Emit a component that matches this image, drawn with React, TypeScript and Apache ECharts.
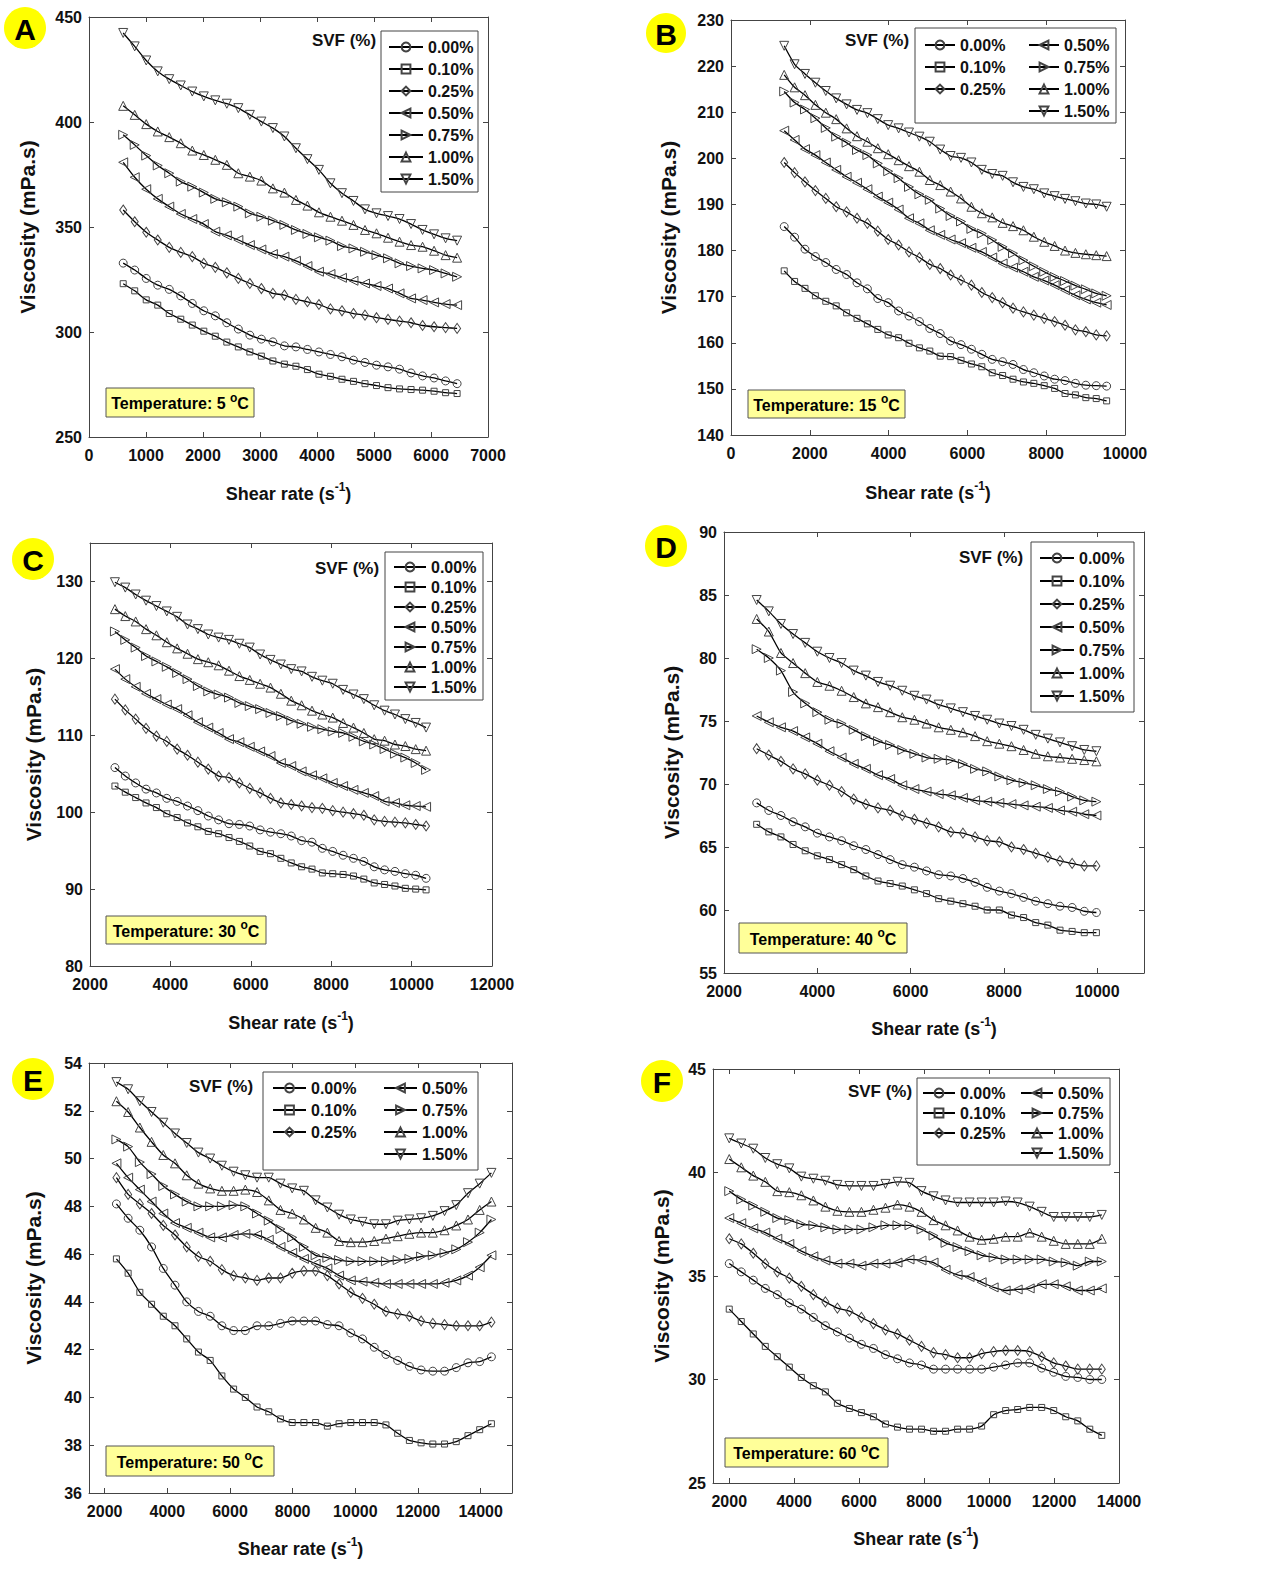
import React, { useEffect, useRef } from 'react';
import * as echarts from 'echarts';

// ---------------- DATA ----------------
const SVF = ['0.00%', '0.10%', '0.25%', '0.50%', '0.75%', '1.00%', '1.50%'];
const PANEL_LETTERS = ['A', 'B', 'C', 'D', 'E', 'F'];
const TEMPERATURES = ['5', '15', '30', '40', '50', '60'];

// Panel A (5 °C)
const SHEAR_A = [600, 802, 1004, 1206, 1408, 1610, 1812, 2014, 2216, 2418, 2620, 2822, 3024, 3226, 3428, 3630, 3832, 4034, 4236, 4438, 4640, 4842, 5044, 5246, 5448, 5650, 5852, 6054, 6256, 6458];
const A_000 = [332.8, 329.5, 325.5, 322.3, 320.3, 317.2, 313.6, 310.1, 307.7, 304.4, 301.4, 298.5, 296.6, 295.3, 293.4, 292.9, 291.7, 290.5, 289.3, 288.2, 286.6, 285.5, 284.2, 283.4, 282.3, 280.5, 279.1, 278.1, 276.7, 275.4];
const A_010 = [323.0, 319.6, 315.3, 312.8, 308.8, 306.1, 303.3, 300.4, 298.0, 295.2, 292.9, 290.5, 288.5, 286.2, 284.7, 283.7, 282.1, 279.9, 278.9, 277.5, 276.5, 275.4, 274.5, 273.5, 272.9, 272.6, 272.3, 271.8, 271.1, 270.7];
const A_025 = [358.1, 352.5, 347.5, 343.8, 340.3, 337.9, 335.9, 332.7, 330.8, 328.2, 325.5, 323.1, 320.7, 318.4, 317.6, 315.5, 314.4, 313.1, 311.0, 310.1, 308.8, 308.0, 306.8, 306.0, 305.2, 304.4, 303.1, 302.5, 302.1, 301.7];
const A_050 = [380.8, 373.7, 368.0, 363.4, 359.7, 356.2, 353.8, 351.4, 347.8, 346.0, 343.8, 341.4, 339.3, 337.1, 335.9, 333.9, 331.4, 328.7, 327.6, 325.8, 324.4, 323.1, 321.9, 320.7, 318.4, 316.0, 315.2, 314.1, 313.3, 312.8];
const A_075 = [393.9, 389.1, 384.0, 379.3, 375.6, 371.6, 369.2, 366.4, 363.4, 361.8, 359.7, 356.5, 354.9, 353.0, 351.0, 348.6, 346.7, 345.1, 343.5, 340.9, 339.8, 338.2, 336.6, 335.1, 332.7, 331.4, 330.3, 329.5, 327.9, 326.3];
const A_100 = [407.7, 403.4, 399.0, 395.5, 392.8, 389.9, 386.4, 384.3, 382.0, 379.6, 375.6, 374.0, 372.1, 368.4, 366.4, 362.9, 360.2, 357.0, 354.9, 353.0, 351.0, 348.6, 347.0, 344.9, 343.0, 341.4, 340.6, 338.7, 336.6, 335.4];
const A_150 = [442.4, 436.0, 429.3, 424.1, 420.4, 417.4, 414.5, 412.2, 410.3, 408.7, 406.6, 403.4, 400.2, 397.1, 393.1, 387.5, 382.3, 377.2, 370.8, 366.1, 362.4, 358.4, 356.5, 355.2, 353.8, 351.4, 348.6, 346.5, 344.6, 343.5];
const XTICKS_A = [0, 1000, 2000, 3000, 4000, 5000, 6000, 7000];
const YTICKS_A = [250, 300, 350, 400, 450];

// Panel B (15 °C)
const SHEAR_B = [1350, 1614, 1878, 2142, 2406, 2670, 2934, 3198, 3462, 3726, 3990, 4254, 4518, 4782, 5046, 5310, 5574, 5838, 6102, 6366, 6630, 6894, 7158, 7422, 7686, 7950, 8214, 8478, 8742, 9006, 9270, 9534];
const B_000 = [185.2, 182.9, 180.3, 178.7, 177.4, 175.9, 174.8, 173.0, 171.7, 169.6, 168.7, 166.9, 165.8, 164.6, 163.1, 162.0, 160.4, 159.6, 158.6, 157.5, 156.4, 155.9, 155.3, 154.2, 153.5, 152.8, 152.1, 151.8, 151.2, 150.8, 150.7, 150.6];
const B_010 = [175.6, 173.3, 171.8, 170.2, 169.0, 168.0, 166.5, 165.3, 164.1, 162.9, 161.7, 161.1, 159.9, 158.9, 158.2, 157.1, 157.0, 156.2, 155.4, 154.8, 153.5, 152.9, 152.1, 151.5, 151.2, 150.7, 150.1, 149.0, 148.7, 148.1, 147.9, 147.4];
const B_025 = [199.1, 196.9, 194.9, 193.0, 191.3, 189.5, 188.4, 187.0, 185.9, 184.2, 182.4, 181.2, 179.7, 178.5, 177.0, 176.1, 174.7, 173.6, 172.5, 170.9, 169.8, 168.7, 167.5, 166.7, 166.0, 165.3, 164.6, 163.8, 162.8, 162.4, 161.7, 161.5];
const B_050 = [206.0, 204.0, 202.0, 200.7, 199.1, 197.5, 196.0, 194.7, 193.3, 191.7, 190.4, 188.9, 187.0, 185.9, 184.4, 183.4, 182.4, 181.6, 180.6, 179.7, 178.5, 177.2, 176.3, 175.4, 174.3, 173.5, 172.5, 171.4, 170.3, 169.4, 168.7, 168.2];
const B_075 = [214.5, 212.1, 210.6, 208.7, 206.6, 204.7, 203.4, 201.8, 200.7, 198.9, 197.2, 195.7, 193.8, 192.2, 191.0, 189.1, 187.5, 186.3, 184.7, 183.7, 182.3, 180.8, 179.4, 177.9, 176.6, 175.4, 174.3, 173.4, 172.4, 171.6, 170.7, 170.2];
const B_100 = [218.1, 215.4, 213.7, 211.6, 209.9, 208.5, 206.5, 204.8, 203.6, 202.2, 200.9, 199.6, 198.3, 197.1, 195.3, 194.2, 192.8, 191.3, 189.5, 188.1, 187.2, 186.0, 185.3, 184.4, 183.0, 181.9, 181.0, 180.0, 179.5, 179.2, 179.0, 178.8];
const B_150 = [224.4, 220.4, 218.3, 216.4, 214.6, 213.0, 211.7, 210.5, 209.8, 208.5, 207.2, 206.5, 205.6, 204.7, 203.6, 201.9, 200.5, 200.1, 199.1, 197.5, 196.6, 196.2, 194.8, 193.8, 193.3, 192.4, 191.8, 191.2, 190.7, 190.2, 190.0, 189.5];
const XTICKS_B = [0, 2000, 4000, 6000, 8000, 10000];
const YTICKS_B = [140, 150, 160, 170, 180, 190, 200, 210, 220, 230];

// Panel C (30 °C)
const SHEAR_C = [2620, 2878, 3136, 3394, 3652, 3910, 4168, 4426, 4684, 4942, 5200, 5458, 5716, 5974, 6232, 6490, 6748, 7006, 7264, 7522, 7780, 8038, 8296, 8554, 8812, 9070, 9328, 9586, 9844, 10102, 10360];
const C_000 = [105.8, 104.7, 103.8, 103.0, 102.5, 101.8, 101.4, 100.8, 100.2, 99.5, 99.0, 98.5, 98.4, 98.2, 97.7, 97.4, 97.2, 96.9, 96.3, 96.1, 95.3, 94.9, 94.4, 94.0, 93.6, 92.9, 92.5, 92.3, 92.0, 91.8, 91.4];
const C_010 = [103.4, 102.6, 101.9, 101.2, 100.6, 99.8, 99.3, 98.6, 98.1, 97.5, 97.2, 96.7, 96.2, 95.6, 94.9, 94.6, 94.0, 93.4, 92.9, 92.6, 92.1, 92.0, 91.9, 91.7, 91.3, 90.8, 90.6, 90.4, 90.1, 90.0, 89.9];
const C_025 = [114.7, 113.3, 112.1, 110.9, 109.9, 109.2, 108.2, 107.4, 106.5, 105.6, 104.7, 104.5, 103.8, 103.1, 102.5, 101.8, 101.2, 101.0, 100.8, 100.6, 100.5, 100.2, 100.0, 99.8, 99.6, 99.0, 98.8, 98.7, 98.6, 98.4, 98.2];
const C_050 = [118.6, 117.3, 116.3, 115.4, 114.7, 114.0, 113.4, 112.6, 111.7, 111.0, 110.3, 109.5, 109.1, 108.5, 107.9, 107.3, 106.4, 106.0, 105.3, 104.8, 104.4, 103.8, 103.4, 102.9, 102.5, 102.1, 101.4, 101.2, 100.9, 100.8, 100.7];
const C_075 = [123.5, 122.4, 121.4, 120.3, 119.6, 118.9, 118.1, 117.3, 116.4, 115.7, 115.3, 114.9, 114.2, 113.8, 113.4, 112.9, 112.5, 111.9, 111.5, 111.1, 110.8, 110.5, 110.3, 109.8, 109.2, 108.8, 108.2, 107.6, 107.1, 106.4, 105.5];
const C_100 = [126.4, 125.5, 124.8, 123.8, 123.0, 122.1, 121.3, 120.6, 119.9, 119.5, 119.1, 118.4, 117.7, 117.2, 116.7, 116.2, 115.4, 114.5, 113.9, 113.2, 112.7, 112.3, 111.6, 111.0, 110.3, 109.5, 109.3, 108.8, 108.6, 108.2, 108.0];
const C_150 = [129.9, 129.2, 128.3, 127.5, 126.8, 126.1, 125.4, 124.4, 123.8, 123.1, 122.7, 122.4, 121.9, 121.4, 120.5, 119.8, 119.2, 118.6, 118.3, 117.6, 117.1, 116.7, 115.9, 115.3, 114.7, 113.9, 113.2, 112.7, 112.1, 111.6, 111.0];
const XTICKS_C = [2000, 4000, 6000, 8000, 10000, 12000];
const YTICKS_C = [80, 90, 100, 110, 120, 130];

// Panel D (40 °C)
const SHEAR_D = [2700, 2960, 3220, 3480, 3740, 4000, 4260, 4520, 4780, 5040, 5300, 5560, 5820, 6080, 6340, 6600, 6860, 7120, 7380, 7640, 7900, 8160, 8420, 8680, 8940, 9200, 9460, 9720, 9980];
const D_000 = [68.5, 67.9, 67.5, 67.0, 66.6, 66.1, 65.8, 65.5, 65.1, 64.8, 64.4, 64.0, 63.6, 63.4, 63.1, 62.8, 62.7, 62.5, 62.2, 61.8, 61.5, 61.3, 61.0, 60.7, 60.5, 60.3, 60.2, 59.9, 59.8];
const D_010 = [66.8, 66.2, 65.8, 65.2, 64.7, 64.3, 64.0, 63.6, 63.2, 62.7, 62.3, 62.1, 61.9, 61.6, 61.3, 60.9, 60.7, 60.5, 60.3, 60.0, 60.0, 59.6, 59.4, 59.0, 58.8, 58.4, 58.3, 58.2, 58.2];
const D_025 = [72.8, 72.3, 71.8, 71.2, 70.8, 70.3, 69.9, 69.4, 68.8, 68.4, 68.1, 67.9, 67.5, 67.2, 66.9, 66.6, 66.2, 66.1, 65.8, 65.5, 65.4, 65.0, 64.8, 64.5, 64.2, 63.9, 63.7, 63.5, 63.5];
const D_050 = [75.4, 74.9, 74.5, 74.2, 73.7, 73.2, 72.6, 72.1, 71.6, 71.2, 70.7, 70.4, 69.9, 69.6, 69.4, 69.2, 69.1, 68.9, 68.7, 68.6, 68.5, 68.4, 68.3, 68.2, 68.1, 67.9, 67.8, 67.6, 67.5];
const D_075 = [80.7, 80.0, 79.0, 77.3, 76.4, 75.7, 75.1, 74.8, 74.3, 73.8, 73.4, 73.1, 72.7, 72.4, 72.1, 72.0, 71.9, 71.6, 71.2, 71.0, 70.6, 70.3, 70.1, 69.9, 69.6, 69.4, 69.0, 68.7, 68.6];
const D_100 = [83.1, 82.1, 80.4, 79.6, 78.8, 78.1, 77.8, 77.4, 76.9, 76.4, 76.1, 75.7, 75.3, 75.1, 74.8, 74.5, 74.3, 74.1, 73.8, 73.4, 73.2, 73.0, 72.7, 72.4, 72.2, 72.1, 72.0, 71.9, 71.8];
const D_150 = [84.6, 83.7, 82.7, 81.9, 81.2, 80.5, 80.0, 79.6, 79.0, 78.6, 78.1, 77.8, 77.4, 77.0, 76.7, 76.3, 76.0, 75.7, 75.4, 75.1, 74.8, 74.6, 74.3, 73.9, 73.6, 73.3, 73.0, 72.7, 72.6];
const XTICKS_D = [2000, 4000, 6000, 8000, 10000];
const YTICKS_D = [55, 60, 65, 70, 75, 80, 85, 90];

// Panel E (50 °C)
const SHEAR_E = [2375, 2749, 3123, 3497, 3871, 4245, 4619, 4993, 5367, 5741, 6115, 6489, 6863, 7237, 7611, 7985, 8359, 8733, 9107, 9481, 9855, 10229, 10603, 10977, 11351, 11725, 12099, 12473, 12847, 13221, 13595, 13969, 14343];
const E_000 = [48.1, 47.5, 47.0, 46.3, 45.4, 44.7, 44.0, 43.6, 43.4, 43.0, 42.8, 42.8, 43.0, 43.0, 43.1, 43.2, 43.2, 43.2, 43.05, 43.0, 42.7, 42.45, 42.1, 41.8, 41.55, 41.3, 41.15, 41.1, 41.1, 41.25, 41.45, 41.5, 41.7];
const E_010 = [45.8, 45.2, 44.4, 43.9, 43.4, 43.0, 42.45, 41.9, 41.55, 40.9, 40.35, 40.0, 39.6, 39.4, 39.1, 38.95, 38.95, 38.95, 38.8, 38.9, 38.95, 38.95, 38.95, 38.85, 38.5, 38.2, 38.1, 38.05, 38.05, 38.15, 38.4, 38.65, 38.9];
const E_025 = [49.2, 48.5, 48.1, 47.7, 47.2, 46.8, 46.3, 45.9, 45.7, 45.35, 45.1, 45.0, 44.9, 45.0, 45.0, 45.2, 45.3, 45.3, 45.1, 44.75, 44.4, 44.15, 43.9, 43.6, 43.5, 43.4, 43.2, 43.1, 43.05, 43.0, 43.0, 43.0, 43.15];
const E_050 = [49.8, 49.2, 48.7, 48.2, 47.7, 47.3, 47.1, 46.9, 46.7, 46.7, 46.8, 46.85, 46.8, 46.6, 46.3, 46.05, 45.8, 45.6, 45.4, 45.1, 44.9, 44.85, 44.8, 44.75, 44.75, 44.75, 44.75, 44.75, 44.8, 44.9, 45.1, 45.45, 45.95];
const E_075 = [50.8, 50.5, 49.85, 49.35, 48.85, 48.5, 48.2, 48.0, 48.0, 48.0, 48.05, 48.0, 47.7, 47.4, 47.05, 46.7, 46.3, 45.95, 45.85, 45.75, 45.7, 45.7, 45.7, 45.7, 45.75, 45.8, 45.9, 45.95, 46.05, 46.2, 46.5, 46.9, 47.45];
const E_100 = [52.4, 51.95, 51.3, 50.7, 50.15, 49.8, 49.3, 48.95, 48.75, 48.65, 48.65, 48.7, 48.6, 48.25, 47.85, 47.7, 47.45, 47.1, 46.9, 46.55, 46.5, 46.5, 46.55, 46.65, 46.75, 46.85, 46.9, 46.9, 47.0, 47.2, 47.45, 47.85, 48.2];
const E_150 = [53.2, 52.9, 52.4, 51.95, 51.5, 51.05, 50.65, 50.25, 50.0, 49.7, 49.45, 49.3, 49.2, 49.2, 48.95, 48.75, 48.65, 48.25, 47.95, 47.65, 47.45, 47.35, 47.25, 47.25, 47.4, 47.45, 47.5, 47.6, 47.8, 48.05, 48.55, 48.95, 49.4];
const XTICKS_E = [2000, 4000, 6000, 8000, 10000, 12000, 14000];
const YTICKS_E = [36, 38, 40, 42, 44, 46, 48, 50, 52, 54];

// Panel F (60 °C)
const SHEAR_F = [2000, 2370, 2740, 3110, 3480, 3850, 4220, 4590, 4960, 5330, 5700, 6070, 6440, 6810, 7180, 7550, 7920, 8290, 8660, 9030, 9400, 9770, 10140, 10510, 10880, 11250, 11620, 11990, 12360, 12730, 13100, 13470];
const F_000 = [35.6, 35.2, 34.8, 34.4, 34.1, 33.7, 33.4, 33.0, 32.6, 32.3, 32.0, 31.7, 31.5, 31.2, 31.0, 30.8, 30.7, 30.5, 30.5, 30.5, 30.5, 30.5, 30.6, 30.7, 30.8, 30.8, 30.55, 30.35, 30.15, 30.1, 30.0, 30.0];
const F_010 = [33.4, 32.8, 32.2, 31.6, 31.1, 30.6, 30.1, 29.7, 29.4, 28.85, 28.6, 28.4, 28.2, 27.85, 27.7, 27.6, 27.6, 27.5, 27.5, 27.6, 27.6, 27.75, 28.3, 28.5, 28.55, 28.65, 28.65, 28.5, 28.2, 28.0, 27.6, 27.3];
const F_025 = [36.8, 36.55, 36.1, 35.6, 35.2, 34.9, 34.5, 34.1, 33.75, 33.45, 33.3, 33.0, 32.7, 32.4, 32.2, 31.9, 31.6, 31.3, 31.2, 31.05, 31.05, 31.25, 31.35, 31.4, 31.4, 31.35, 31.1, 30.8, 30.65, 30.5, 30.5, 30.5];
const F_050 = [37.8, 37.55, 37.3, 37.1, 36.8, 36.55, 36.2, 35.95, 35.75, 35.6, 35.6, 35.5, 35.6, 35.6, 35.65, 35.8, 35.75, 35.65, 35.3, 35.05, 34.95, 34.7, 34.45, 34.3, 34.35, 34.4, 34.6, 34.6, 34.5, 34.3, 34.3, 34.4];
const F_075 = [39.1, 38.7, 38.4, 38.1, 37.8, 37.7, 37.5, 37.45, 37.35, 37.25, 37.25, 37.25, 37.35, 37.45, 37.45, 37.45, 37.25, 36.95, 36.6, 36.4, 36.2, 36.0, 35.9, 35.8, 35.8, 35.8, 35.8, 35.7, 35.65, 35.5, 35.7, 35.7];
const F_100 = [40.65, 40.25, 39.85, 39.55, 39.1, 39.05, 38.9, 38.65, 38.35, 38.15, 38.1, 38.1, 38.2, 38.3, 38.45, 38.35, 38.1, 37.7, 37.45, 37.2, 36.9, 36.75, 36.8, 36.9, 36.9, 37.1, 36.9, 36.7, 36.55, 36.55, 36.55, 36.8];
const F_150 = [41.65, 41.4, 41.15, 40.7, 40.4, 40.2, 39.8, 39.7, 39.6, 39.4, 39.35, 39.35, 39.35, 39.45, 39.55, 39.5, 39.1, 38.85, 38.65, 38.55, 38.55, 38.55, 38.55, 38.6, 38.55, 38.35, 38.1, 37.85, 37.85, 37.85, 37.85, 37.95];
const XTICKS_F = [2000, 4000, 6000, 8000, 10000, 12000, 14000];
const YTICKS_F = [25, 30, 35, 40, 45];

// ---------------- STYLE / LAYOUT ----------------
const FONT = '"Liberation Sans", Arial, Helvetica, sans-serif';
const AXIS_COLOR = '#444';
const MARKERS: { symbol: string; size: number | number[] }[] = [
  { symbol: 'circle', size: 8 },
  { symbol: 'rect', size: 6 },
  { symbol: 'path://M5,0L10,7L5,14L0,7Z', size: [7, 10] },
  { symbol: 'path://M0,5L9,0L9,10Z', size: [9, 9] },
  { symbol: 'path://M9,5L0,0L0,10Z', size: [9, 9] },
  { symbol: 'path://M5,0L10,9L0,9Z', size: [9, 9] },
  { symbol: 'path://M0,0L10,0L5,9Z', size: [9, 9] },
];

const ALL = [0, 1, 2, 3, 4, 5, 6];
const LEFT3 = [0, 1, 2];
const RIGHT4 = [3, 4, 5, 6];

const PANELS = [
  {
    x: SHEAR_A, ys: [A_000, A_010, A_025, A_050, A_075, A_100, A_150], xTicks: XTICKS_A, yTicks: YTICKS_A,
    grid: { left: 89, top: 17, width: 399, height: 420 }, xRange: [0, 7000], yRange: [250, 450], xGap: 44, yGap: 51,
    legend: { itemWidth: 34, itemGap: 4, cols: [{ left: 388, top: 38, idx: ALL }] },
    box: [381, 31, 97, 161], svf: [344, 40], temp: [106, 388, 148, 29], circle: [25, 28, 21],
  },
  {
    x: SHEAR_B, ys: [B_000, B_010, B_025, B_050, B_075, B_100, B_150], xTicks: XTICKS_B, yTicks: YTICKS_B,
    grid: { left: 731, top: 20, width: 394, height: 415 }, xRange: [0, 10000], yRange: [140, 230], xGap: 45, yGap: 52,
    legend: { itemWidth: 30, itemGap: 4, cols: [{ left: 924, top: 36, idx: LEFT3 }, { left: 1028, top: 36, idx: RIGHT4 }] },
    box: [915, 28, 201, 95], svf: [877, 40], temp: [748, 390, 157, 28], circle: [666, 33, 20],
  },
  {
    x: SHEAR_C, ys: [C_000, C_010, C_025, C_050, C_075, C_100, C_150], xTicks: XTICKS_C, yTicks: YTICKS_C,
    grid: { left: 90, top: 543, width: 402, height: 423 }, xRange: [2000, 12000], yRange: [80, 135], xGap: 44, yGap: 46,
    legend: { itemWidth: 32, itemGap: 2, cols: [{ left: 393, top: 558, idx: ALL }] },
    box: [385, 552, 98, 148], svf: [347, 568], temp: [106, 916, 160, 28], circle: [33, 559, 21],
  },
  {
    x: SHEAR_D, ys: [D_000, D_010, D_025, D_050, D_075, D_100, D_150], xTicks: XTICKS_D, yTicks: YTICKS_D,
    grid: { left: 724, top: 532, width: 420, height: 441 }, xRange: [2000, 11000], yRange: [55, 90], xGap: 43, yGap: 42,
    legend: { itemWidth: 34, itemGap: 5, cols: [{ left: 1039, top: 549, idx: ALL }] },
    box: [1031, 542, 103, 170], svf: [991, 557], temp: [739, 923, 168, 30], circle: [666, 546, 21],
  },
  {
    x: SHEAR_E, ys: [E_000, E_010, E_025, E_050, E_075, E_100, E_150], xTicks: XTICKS_E, yTicks: YTICKS_E,
    grid: { left: 89, top: 1063, width: 423, height: 430 }, xRange: [1500, 15000], yRange: [36, 54], xGap: 43, yGap: 45,
    legend: { itemWidth: 33, itemGap: 4, cols: [{ left: 272, top: 1079, idx: LEFT3 }, { left: 383, top: 1079, idx: RIGHT4 }] },
    box: [263, 1072, 215, 98], svf: [221, 1086], temp: [106, 1446, 168, 30], circle: [33, 1079, 21],
  },
  {
    x: SHEAR_F, ys: [F_000, F_010, F_025, F_050, F_075, F_100, F_150], xTicks: XTICKS_F, yTicks: YTICKS_F,
    grid: { left: 713, top: 1069, width: 406, height: 414 }, xRange: [1500, 14000], yRange: [25, 45], xGap: 43, yGap: 41,
    legend: { itemWidth: 32, itemGap: 2, cols: [{ left: 922, top: 1084, idx: LEFT3 }, { left: 1020, top: 1084, idx: RIGHT4 }] },
    box: [917, 1078, 193, 87], svf: [880, 1091], temp: [725, 1438, 163, 29], circle: [662, 1081, 21],
  },
];

function buildOption() {
  const grid: any[] = [];
  const xAxis: any[] = [];
  const yAxis: any[] = [];
  const series: any[] = [];
  const legend: any[] = [];
  const graphic: any[] = [];

  const lineStyle = { color: AXIS_COLOR, width: 1 };
  const labelStyle = { fontSize: 16, fontWeight: 'bold', color: '#111', fontFamily: FONT };

  PANELS.forEach((p, i) => {
    grid.push({ ...p.grid, containLabel: false });

    const mkX = (pos: 'bottom' | 'top') => ({
      type: 'value', gridIndex: i, position: pos, min: p.xRange[0], max: p.xRange[1],
      axisLine: { show: true, onZero: false, lineStyle },
      axisTick: { show: true, inside: true, length: 5, customValues: p.xTicks, lineStyle },
      axisLabel: pos === 'bottom'
        ? { show: true, customValues: p.xTicks, margin: 10, formatter: (v: number) => String(v), ...labelStyle }
        : { show: false },
      splitLine: { show: false },
      ...(pos === 'bottom'
        ? {
            name: 'Shear rate (s{sup|-1})', nameLocation: 'middle', nameGap: p.xGap,
            nameTextStyle: {
              fontSize: 18, fontWeight: 'bold', color: '#111', fontFamily: FONT, lineHeight: 26,
              rich: { sup: { fontSize: 12, fontWeight: 'bold', color: '#111', fontFamily: FONT, verticalAlign: 'top', lineHeight: 14 } },
            },
          }
        : {}),
    });
    const mkY = (pos: 'left' | 'right') => ({
      type: 'value', gridIndex: i, position: pos, min: p.yRange[0], max: p.yRange[1],
      axisLine: { show: true, onZero: false, lineStyle },
      axisTick: { show: true, inside: true, length: 5, customValues: p.yTicks, lineStyle },
      axisLabel: pos === 'left'
        ? { show: true, customValues: p.yTicks, margin: 7, formatter: (v: number) => String(v), ...labelStyle }
        : { show: false },
      splitLine: { show: false },
      ...(pos === 'left'
        ? {
            name: 'Viscosity (mPa.s)', nameLocation: 'middle', nameGap: p.yGap,
            nameTextStyle: { fontSize: 21, fontWeight: 'bold', color: '#111', fontFamily: FONT },
          }
        : {}),
    });
    xAxis.push(mkX('bottom'), mkX('top'));
    yAxis.push(mkY('left'), mkY('right'));

    p.ys.forEach((vals, k) => {
      series.push({
        type: 'line',
        name: SVF[k],
        xAxisIndex: 2 * i,
        yAxisIndex: 2 * i,
        data: p.x.map((xv, j) => [xv, vals[j]]),
        symbol: MARKERS[k].symbol,
        symbolSize: MARKERS[k].size,
        showSymbol: true,
        smooth: 0.2,
        lineStyle: { color: '#000', width: 1.3 },
        itemStyle: { color: 'transparent', borderColor: '#444', borderWidth: 1 },
        emphasis: { disabled: true },
        silent: true,
        z: 3,
      });
    });

    p.legend.cols.forEach((c) => {
      legend.push({
        orient: 'vertical', left: c.left, top: c.top, padding: 0,
        itemWidth: p.legend.itemWidth, itemHeight: 11, itemGap: p.legend.itemGap,
        selectedMode: false,
        data: c.idx.map((k) => SVF[k]),
        textStyle: { fontSize: 16, fontWeight: 'bold', color: '#111', fontFamily: FONT, lineHeight: 18 },
        z: 10,
      });
    });

    // legend box
    graphic.push({
      type: 'rect', z: 1,
      shape: { x: p.box[0], y: p.box[1], width: p.box[2], height: p.box[3] },
      style: { fill: '#fff', stroke: AXIS_COLOR, lineWidth: 1 },
      silent: true,
    });
    // SVF label
    graphic.push({
      type: 'text', z: 5, x: p.svf[0], y: p.svf[1], silent: true,
      style: {
        text: 'SVF (%)', fill: '#111', fontSize: 17, fontWeight: 'bold', fontFamily: FONT,
        align: 'center', verticalAlign: 'middle', textAlign: 'center', textVerticalAlign: 'middle',
      },
    });
    // Temperature box
    graphic.push({
      type: 'rect', z: 5, silent: true,
      shape: { x: p.temp[0], y: p.temp[1], width: p.temp[2], height: p.temp[3] },
      style: { fill: '#FFFF99', stroke: '#555', lineWidth: 1 },
    });
    graphic.push({
      type: 'text', z: 6, silent: true,
      x: p.temp[0] + p.temp[2] / 2, y: p.temp[1] + p.temp[3] / 2 + 1,
      style: {
        text: 'Temperature: ' + TEMPERATURES[i] + ' {sup|o}C',
        fill: '#000', fontSize: 16, fontWeight: 'bold', fontFamily: FONT, lineHeight: 24,
        align: 'center', verticalAlign: 'middle', textAlign: 'center', textVerticalAlign: 'middle',
        rich: { sup: { fontSize: 12, fontWeight: 'bold', fontFamily: FONT, fill: '#000', verticalAlign: 'top', lineHeight: 13 } },
      },
    });
    // panel letter
    graphic.push({
      type: 'circle', z: 5, silent: true,
      shape: { cx: p.circle[0], cy: p.circle[1], r: p.circle[2] },
      style: { fill: '#FFFF00', stroke: 'none' },
    });
    graphic.push({
      type: 'text', z: 6, silent: true, x: p.circle[0], y: p.circle[1] + 1,
      style: {
        text: PANEL_LETTERS[i], fill: '#000', fontSize: 30, fontWeight: 'bold', fontFamily: FONT,
        align: 'center', verticalAlign: 'middle', textAlign: 'center', textVerticalAlign: 'middle',
      },
    });
  });

  return {
    animation: false,
    backgroundColor: '#fff',
    textStyle: { fontFamily: FONT },
    grid, xAxis, yAxis, series, legend, graphic,
  };
}

export default function App() {
  const ref = useRef<HTMLDivElement>(null);
  useEffect(() => {
    if (!ref.current) return;
    const chart = echarts.init(ref.current, null, { renderer: 'svg' });
    chart.setOption(buildOption() as any);
    return () => chart.dispose();
  }, []);
  return (
    <div
      ref={ref}
      style={{ position: 'absolute', left: 0, top: 0, width: 1262, height: 1579, background: '#fff' }}
    />
  );
}
